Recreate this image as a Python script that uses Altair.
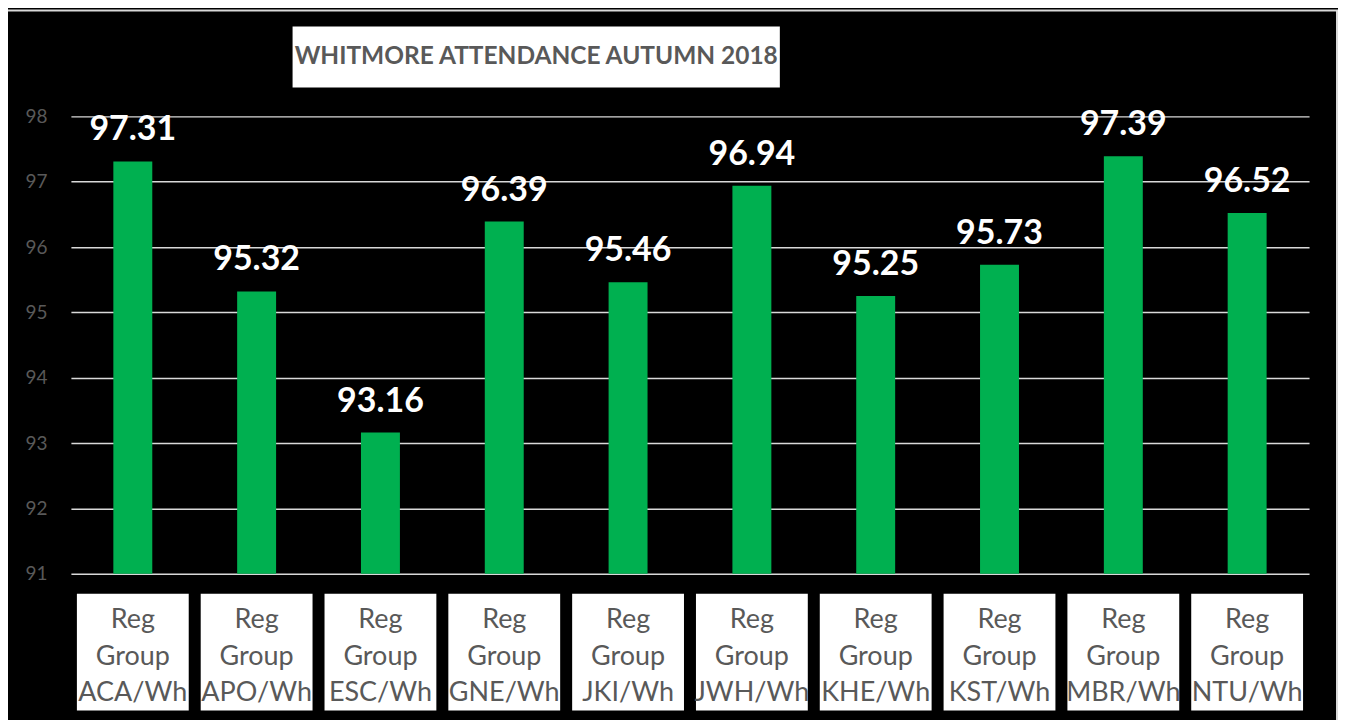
import altair as alt
import pandas as pd

codes = ["ACA/Wh", "APO/Wh", "ESC/Wh", "GNE/Wh", "JKI/Wh",
         "JWH/Wh", "KHE/Wh", "KST/Wh", "MBR/Wh", "NTU/Wh"]
values = [97.31, 95.32, 93.16, 96.39, 95.46, 96.94, 95.25, 95.73, 97.39, 96.52]
y_ticks = [91, 92, 93, 94, 95, 96, 97, 98]
title_text = "WHITMORE ATTENDANCE AUTUMN 2018"

df = pd.DataFrame({
    "code": codes,
    "value": values,
    "label": ["Reg\nGroup\n" + c for c in codes],
    "vtxt": [f"{v:.2f}" for v in values],
})

FONT = "Lato"
W, H = 1240, 458

xenc = alt.X("code:N", sort=codes,
             scale=alt.Scale(paddingInner=0, paddingOuter=0),
             axis=None)
yscale = alt.Scale(domain=[91, 98], zero=False, nice=False)

base = alt.Chart(df)

border = base.mark_rect(fill="transparent", stroke="#d9d9d9", strokeWidth=2).encode(
    x=alt.value(-64), x2=alt.value(1268), y=alt.value(-106), y2=alt.value(612)
).transform_filter(alt.datum.code == codes[0])

bars = base.mark_bar(color="#00B050", size=39).encode(
    x=xenc,
    y=alt.Y("value:Q", scale=yscale,
            axis=alt.Axis(values=y_ticks, format="d", title=None, domain=False, ticks=False,
                          grid=True, gridColor="#d9d9d9", gridWidth=1.5,
                          labelColor="#595959", labelFont=FONT, labelFontSize=19,
                          labelPadding=24)),
    y2=alt.datum(91),
)

vlabels = base.mark_text(color="white", font=FONT, fontWeight="bold", fontSize=34,
                         baseline="alphabetic", dy=-21).encode(
    x=xenc, y=alt.Y("value:Q", scale=yscale), text="vtxt:N"
)

xboxes = base.mark_bar(color="white", size=112).encode(
    x=xenc, y=alt.value(478), y2=alt.value(595)
)

xtext = base.mark_text(color="#595959", font=FONT, fontSize=27, lineBreak="\n",
                       lineHeight=37, baseline="middle").encode(
    x=xenc, y=alt.value(504), text="label:N"
)

tbox = base.mark_rect(color="white").encode(
    x=alt.value(222), x2=alt.value(710), y=alt.value(-90), y2=alt.value(-29)
).transform_filter(alt.datum.code == codes[0])

ttext = base.mark_text(color="#595959", font=FONT, fontWeight="bold", fontSize=24.5,
                       baseline="middle", align="center").encode(
    x=alt.value(466), y=alt.value(-59), text=alt.value(title_text)
).transform_filter(alt.datum.code == codes[0])

chart = alt.layer(border, bars, vlabels, xboxes, xtext, tbox, ttext).properties(
    width=W, height=H, background="black",
    padding={"left": 63, "top": 108, "right": 29, "bottom": 150},
    autosize=alt.AutoSizeParams(type="none"),
).configure_view(stroke=None)

chart.save("out.html", embed_options={"renderer": "svg", "actions": False})
